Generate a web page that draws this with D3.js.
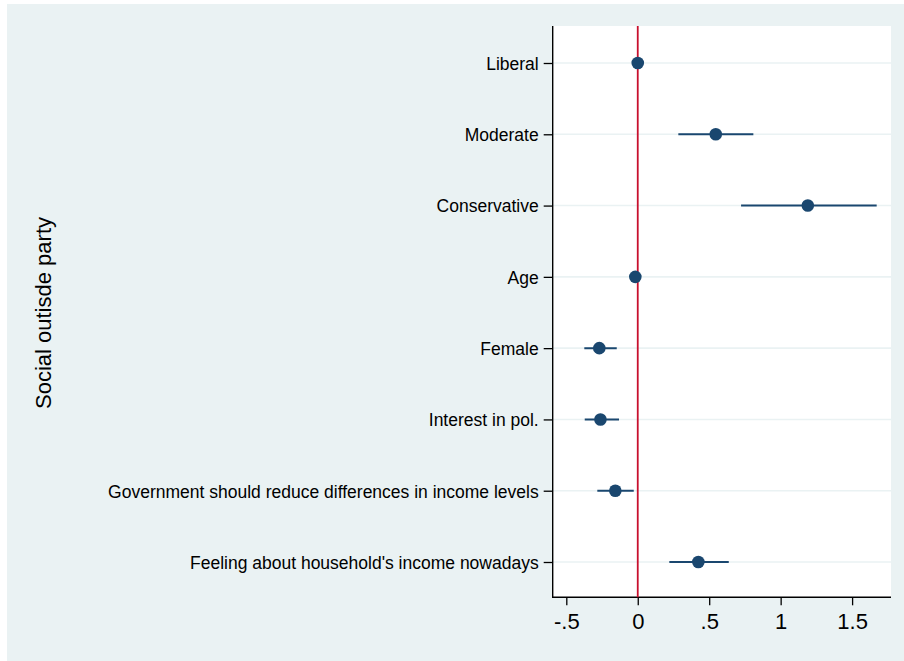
<!DOCTYPE html>
<html>
<head>
<meta charset="utf-8">
<script src="https://cdn.jsdelivr.net/npm/d3@7"></script>
<style>
  html, body { margin: 0; padding: 0; background: #ffffff; }
  svg { display: block; font-family: "Liberation Sans", Arial, Helvetica, sans-serif; }
</style>
</head>
<body>
<svg id="chart" width="904" height="661"></svg>
<script>
// ---- data ----
const categories = [
  "Liberal",
  "Moderate",
  "Conservative",
  "Age",
  "Female",
  "Interest in pol.",
  "Government should reduce differences in income levels",
  "Feeling about household's income nowadays"
];
const estimates = [0.0, 0.546, 1.19, -0.017, -0.269, -0.261, -0.157, 0.424];
const ciLower   = [0.0, 0.284, 0.723, -0.03, -0.374, -0.371, -0.283, 0.221];
const ciUpper   = [0.0, 0.809, 1.672, -0.004, -0.147, -0.131, -0.028, 0.637];
const xTickValues = [-0.5, 0, 0.5, 1, 1.5];
const xTickLabels = ["-.5", "0", ".5", "1", "1.5"];
const yTitle = "Social outisde party";

// ---- layout ----
const W = 904, H = 661;
const plot = { left: 552.7, right: 891, top: 26, bottom: 597.3 };
const svg = d3.select("#chart");

// background
svg.append("rect").attr("x", 7).attr("y", 4).attr("width", W - 7).attr("height", H - 4)
  .attr("fill", "#eaf2f3");
svg.append("rect").attr("x", plot.left).attr("y", plot.top)
  .attr("width", plot.right - plot.left).attr("height", plot.bottom - plot.top)
  .attr("fill", "#ffffff");

const x = d3.scaleLinear().domain([-0.5, 1.5]).range([566.3, 852.1]);
const y = d3.scalePoint().domain(categories).range([63, 562]);

// gridlines
svg.append("g").selectAll("line").data(categories).join("line")
  .attr("x1", plot.left).attr("x2", plot.right)
  .attr("y1", d => y(d)).attr("y2", d => y(d))
  .attr("stroke", "#eaf2f3").attr("stroke-width", 1.6);

// y axis
const yAxis = d3.axisLeft(y).tickSize(9).tickPadding(5);
const gy = svg.append("g").attr("transform", `translate(${plot.left},0)`).call(yAxis);
gy.select(".domain").remove();
gy.selectAll(".tick line").attr("stroke", "#000").attr("stroke-width", 1.3);
gy.selectAll(".tick text").attr("font-size", "17.5px").attr("fill", "#000")
  .attr("font-family", "'Liberation Sans', Arial, sans-serif").attr("dy", "0.36em");
svg.append("line").attr("x1", plot.left).attr("x2", plot.left)
  .attr("y1", plot.top).attr("y2", plot.bottom + 0.7)
  .attr("stroke", "#000").attr("stroke-width", 1.4);

// x axis
const xAxis = d3.axisBottom(x).tickValues(xTickValues)
  .tickFormat((d, i) => xTickLabels[i]).tickSize(8).tickPadding(8);
const gx = svg.append("g").attr("transform", `translate(0,${plot.bottom})`).call(xAxis);
gx.select(".domain").remove();
gx.selectAll(".tick line").attr("stroke", "#000").attr("stroke-width", 1.3);
gx.selectAll(".tick text").attr("font-size", "22px").attr("fill", "#000")
  .attr("font-family", "'Liberation Sans', Arial, sans-serif").attr("dy", "0.71em");
svg.append("line").attr("x1", plot.left - 0.7).attr("x2", plot.right)
  .attr("y1", plot.bottom).attr("y2", plot.bottom)
  .attr("stroke", "#000").attr("stroke-width", 1.4);

// reference line at 0
svg.append("line").attr("x1", x(0)).attr("x2", x(0))
  .attr("y1", plot.top).attr("y2", plot.bottom)
  .attr("stroke", "#c8102e").attr("stroke-width", 1.8);

// confidence intervals
const rows = categories.map((c, i) => ({ c, est: estimates[i], lo: ciLower[i], hi: ciUpper[i] }));
svg.append("g").selectAll("line").data(rows).join("line")
  .attr("x1", d => x(d.lo)).attr("x2", d => x(d.hi))
  .attr("y1", d => y(d.c)).attr("y2", d => y(d.c))
  .attr("stroke", "#1a476f").attr("stroke-width", 2);

// points
svg.append("g").selectAll("circle").data(rows).join("circle")
  .attr("cx", d => x(d.est)).attr("cy", d => y(d.c)).attr("r", 6.3)
  .attr("fill", "#1a476f");

// y title
svg.append("text").attr("transform", "translate(51,313) rotate(-90)")
  .attr("text-anchor", "middle").attr("font-size", "22px").attr("fill", "#000")
  .text(yTitle);
</script>
</body>
</html>
